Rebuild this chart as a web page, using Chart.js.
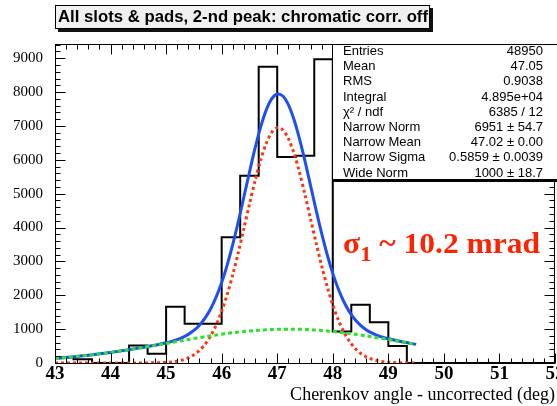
<!DOCTYPE html>
<html>
<head>
<meta charset="utf-8">
<script src="https://cdn.jsdelivr.net/npm/chart.js@4.4.1/dist/chart.umd.min.js"></script>
<style>
  html, body { margin: 0; padding: 0; background: #fff; }
  #wrap { position: relative; width: 557px; height: 406px; overflow: hidden; }
  #chart { position: absolute; left: 0; top: 0; }
  #title {
    position: absolute; left: 55px; top: 5px; width: 375px; height: 24px;
    box-sizing: border-box; border: 1px solid #000; background: #f0f0f0;
    box-shadow: 3px 3px 0 #111;
    font: bold 17px "Liberation Sans", Arial, sans-serif; line-height: 22px;
    padding-left: 2px; white-space: nowrap; overflow: hidden;
  }
  #title span, #sigma span { display: inline-block; transform-origin: 0 50%; }
  #stats {
    position: absolute; left: 332px; top: 44px; width: 240px; height: 138px;
    box-sizing: border-box; border: 1px solid #000; border-bottom-width: 3px; background: #fff;
  }
  .row { position: absolute; font: 13px "Liberation Sans", Arial, sans-serif; line-height: 15px; white-space: nowrap; color: #000; }
  .row.val { text-align: right; }
  #sigma {
    position: absolute; left: 343px; top: 228px; white-space: nowrap;
    font: bold 30px "Liberation Serif", "Times New Roman", serif; line-height: 30px; color: #ff2200;
  }
  #sigma sub { font-size: 0.72em; line-height: 0; vertical-align: -8px; }
</style>
</head>
<body>
<div id="wrap">
  <canvas id="chart" width="557" height="406"></canvas>
  <div id="title"><span>All slots &amp; pads, 2-nd peak: chromatic corr. off</span></div>
  <div id="stats"></div>
  <div id="sigma"><span>σ<sub>1</sub> ~ 10.2 mrad</span></div>
</div>
<script>
// histogram: 27 bins of 1/3 deg starting at 43 deg
const binStart = 43;
const binWidth = 1 / 3;
const counts = [170, 110, 0, 0, 515, 270, 1660, 1160, 1160, 3710, 5530, 8750, 6080, 6120,
                8970, 930, 1720, 1200, 505, 0, 0, 0, 0, 0, 0, 0, 0];

// fit curves, read every 0.1 deg from 43.0 to 49.5
const fitStart = 43;
const fitStep = 0.1;
const fitTotal = [135, 149, 163, 178, 195, 212, 230, 249, 270, 291,
                  313, 336, 360, 385, 411, 439, 466, 495, 525, 559,
                  596, 639, 691, 757, 845, 961, 1117, 1324, 1596, 1944,
                  2376, 2898, 3503, 4179, 4901, 5634, 6336, 6960, 7460, 7797,
                  7942, 7885, 7631, 7200, 6627, 5959, 5240, 4516, 3825, 3196,
                  2646, 2183, 1808, 1511, 1283, 1112, 984, 889, 817, 761,
                  716, 677, 642, 611, 580, 550];
const fitNarrow = [0, 0, 0, 0, 0, 0, 0, 0, 0, 0,
                   0, 0, 0, 0, 0, 1, 1, 3, 5, 10,
                   18, 32, 56, 93, 152, 240, 369, 549, 795, 1118,
                   1527, 2026, 2610, 3267, 3971, 4688, 5376, 5988, 6478, 6807,
                   6947, 6886, 6631, 6201, 5632, 4969, 4258, 3544, 2865, 2250,
                   1716, 1271, 915, 639, 434, 286, 183, 114, 69, 40,
                   23, 13, 7, 4, 2, 1];
const fitWide = [135, 149, 163, 178, 195, 212, 230, 249, 270, 291,
                 313, 336, 360, 385, 411, 438, 465, 492, 520, 549,
                 578, 607, 635, 664, 693, 721, 748, 775, 801, 826,
                 849, 872, 893, 912, 930, 946, 960, 972, 982, 990,
                 995, 999, 1000, 999, 995, 990, 982, 972, 960, 946,
                 930, 912, 893, 872, 849, 826, 801, 775, 748, 721,
                 693, 664, 635, 607, 578, 549];

const xMin = 43, xMax = 52, yMax = 9420;
const xTicks = [43, 44, 45, 46, 47, 48, 49, 50, 51, 52];
const yTicks = [0, 1000, 2000, 3000, 4000, 5000, 6000, 7000, 8000, 9000];
const xTitle = 'Cherenkov angle - uncorrected (deg)';

const statLabels = ['Entries', 'Mean', 'RMS', 'Integral', 'χ² / ndf', 'Narrow Norm', 'Narrow Mean', 'Narrow Sigma', 'Wide Norm'];
const statValues = ['48950', '47.05', '0.9038', '4.895e+04', '6385 / 12', '6951 ± 54.7', '47.02 ± 0.00', '0.5859 ± 0.0039', '1000 ± 18.7'];

// stats box rows
const wrap = document.getElementById('wrap');
statLabels.forEach((lab, i) => {
  const top = 43 + i * 15.2;
  const l = document.createElement('div');
  l.className = 'row';
  l.style.left = '343px'; l.style.top = top + 'px';
  l.textContent = lab;
  const v = document.createElement('div');
  v.className = 'row val';
  v.style.right = '14px'; v.style.top = top + 'px';
  v.textContent = statValues[i];
  wrap.appendChild(l); wrap.appendChild(v);
});

// squeeze texts to the widths seen in the picture
function fitWidth(sel, w) {
  const el = document.querySelector(sel);
  el.style.transform = 'scaleX(' + (w / el.getBoundingClientRect().width) + ')';
}
fitWidth('#title span', 370);
fitWidth('#sigma span', 197);

const histPoints = counts.map((c, i) => ({ x: binStart + i * binWidth, y: c }));
histPoints.push({ x: binStart + counts.length * binWidth, y: 0 });
const fitPts = arr => arr.map((v, i) => ({ x: fitStart + i * fitStep, y: v }));

// ROOT style frame: inward ticks on all four sides
const frameTicks = {
  id: 'frameTicks',
  afterDatasetsDraw(chart) {
    const { ctx, chartArea: a, scales: { x, y } } = chart;
    const L = Math.round(a.left) + 0.5, R = Math.round(a.right) - 0.5;
    const T = Math.round(a.top) + 0.5, B = Math.round(a.bottom) + 0.5;
    ctx.save();
    ctx.strokeStyle = '#000';
    ctx.lineWidth = 1;
    ctx.strokeRect(L, T, R - L, B - T);
    ctx.beginPath();
    for (let i = 0; i <= 45; i++) {
      const px = Math.round(x.getPixelForValue(xMin + i * 0.2)) + 0.5;
      const len = i % 5 === 0 ? 10 : 5;
      ctx.moveTo(px, B); ctx.lineTo(px, B - len);
      ctx.moveTo(px, T); ctx.lineTo(px, T + len);
    }
    for (let v = 0; v <= yMax; v += 200) {
      const py = Math.round(y.getPixelForValue(v)) + 0.5;
      const len = v % 1000 === 0 ? 10 : 5;
      ctx.moveTo(L, py); ctx.lineTo(L + len, py);
      ctx.moveTo(R, py); ctx.lineTo(R - len, py);
    }
    ctx.stroke();
    ctx.restore();
  }
};

const serif = '"Liberation Serif", "Times New Roman", serif';

new Chart(document.getElementById('chart'), {
  type: 'line',
  data: {
    datasets: [
      { data: fitPts(fitWide), borderColor: '#2ee02e', borderWidth: 3, borderDash: [4, 3], tension: 0.3 },
      { data: fitPts(fitNarrow), borderColor: '#ff3311', borderWidth: 3, borderDash: [3, 3], tension: 0.3 },
      { data: fitPts(fitTotal), borderColor: '#1f4ff0', borderWidth: 3, tension: 0.3 },
      { data: histPoints, borderColor: '#000', borderWidth: 2, stepped: true }
    ]
  },
  options: {
    responsive: false,
    animation: false,
    layout: { padding: { top: 44, right: 2, left: 0, bottom: 0 } },
    plugins: { legend: { display: false }, tooltip: { enabled: false } },
    elements: { point: { radius: 0 } },
    scales: {
      x: {
        type: 'linear', min: xMin, max: xMax,
        grid: { display: false, drawTicks: false },
        border: { display: false },
        afterBuildTicks(s) { s.ticks = xTicks.map(v => ({ value: v })); },
        ticks: {
          autoSkip: false, maxRotation: 0, padding: 0, color: '#000',
          callback: v => String(v),
          font: { family: serif, size: 19, weight: 'bold' }
        },
        title: {
          display: true, text: xTitle, align: 'end', color: '#000',
          font: { family: serif, size: 18 }, padding: { top: 0, bottom: 0 }
        },
        afterFit(s) { s.height = 43; s.paddingLeft = 0; s.paddingRight = 0; }
      },
      y: {
        min: 0, max: yMax,
        grid: { display: false, drawTicks: false },
        border: { display: false },
        afterBuildTicks(s) { s.ticks = yTicks.map(v => ({ value: v })); },
        ticks: {
          autoSkip: false, padding: 12, color: '#000',
          callback: v => String(v),
          font: { family: serif, size: 15 }
        },
        afterFit(s) { s.width = 55; s.paddingTop = 0; s.paddingBottom = 0; }
      }
    }
  },
  plugins: [frameTicks]
});
</script>
</body>
</html>
